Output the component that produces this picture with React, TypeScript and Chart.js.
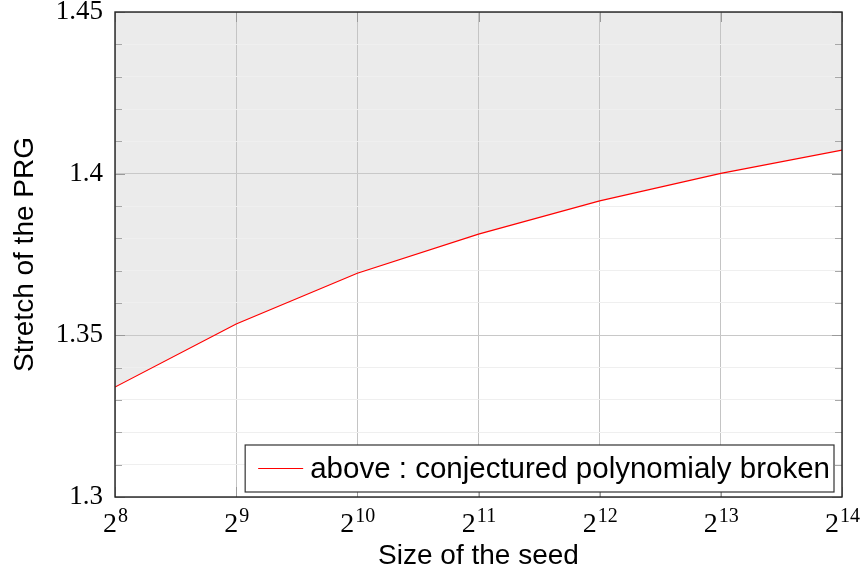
import React, { useEffect, useRef } from 'react';
import { Chart, registerables } from 'chart.js';

Chart.register(...registerables);

// ---- data ----
const exponents = [8, 9, 10, 11, 12, 13, 14];
const stretch = [1.334, 1.3535, 1.3692, 1.3813, 1.3916, 1.4001, 1.4073];
const yMin = 1.3;
const yMax = 1.45;
const yMinorStep = 0.01;
const yMajorStep = 0.05;
const seriesLabel = 'above : conjectured polynomialy broken';
const xTitle = 'Size of the seed';
const yTitle = 'Stretch of the PRG';

const SERIF = '"Liberation Serif", "DejaVu Serif", serif';
const SANS = '"Liberation Sans", Arial, sans-serif';

const isMajor = (v: number) => {
  const r = v / yMajorStep;
  return Math.abs(r - Math.round(r)) < 1e-6;
};

const frameAndTicks = {
  id: 'frameAndTicks',
  afterDatasetsDraw(chart: any) {
    const { ctx, chartArea } = chart;
    const { left, right, top, bottom } = chartArea;
    const xs = chart.scales.x;
    const ys = chart.scales.y;
    ctx.save();
    ctx.lineWidth = 1;
    ys.ticks.forEach((t: any) => {
      const y = Math.round(ys.getPixelForValue(t.value)) + 0.5;
      const major = isMajor(t.value);
      const len = major ? 10 : 7;
      ctx.strokeStyle = major ? '#9a9a9a' : '#a8a8a8';
      ctx.beginPath();
      ctx.moveTo(left, y);
      ctx.lineTo(left + len, y);
      ctx.moveTo(right, y);
      ctx.lineTo(right - len, y);
      ctx.stroke();
    });
    xs.ticks.forEach((t: any) => {
      const x = Math.round(xs.getPixelForValue(t.value)) + 0.5;
      ctx.strokeStyle = '#9a9a9a';
      ctx.beginPath();
      ctx.moveTo(x, bottom);
      ctx.lineTo(x, bottom - 10);
      ctx.moveTo(x, top);
      ctx.lineTo(x, top + 10);
      ctx.stroke();
    });
    ctx.strokeStyle = '#222';
    ctx.lineWidth = 1.4;
    ctx.strokeRect(left, top, right - left, bottom - top);
    ctx.restore();
  },
};

const xTickLabels = {
  id: 'xTickLabels',
  afterDraw(chart: any) {
    const { ctx } = chart;
    const xs = chart.scales.x;
    const baseY = chart.chartArea.bottom + 35;
    ctx.save();
    ctx.fillStyle = '#000';
    ctx.textBaseline = 'alphabetic';
    ctx.textAlign = 'left';
    xs.ticks.forEach((t: any) => {
      const x = xs.getPixelForValue(t.value);
      const base = '2';
      const sup = String(t.value);
      ctx.font = `28px ${SERIF}`;
      const wb = ctx.measureText(base).width;
      ctx.font = `20px ${SERIF}`;
      const ws = ctx.measureText(sup).width;
      const start = x - (wb + ws) / 2;
      ctx.font = `28px ${SERIF}`;
      ctx.fillText(base, start, baseY);
      ctx.font = `20px ${SERIF}`;
      ctx.fillText(sup, start + wb + 1, baseY - 10);
    });
    ctx.restore();
  },
};

const boxLegend = {
  id: 'boxLegend',
  afterDraw(chart: any) {
    const { ctx, chartArea } = chart;
    const ds = chart.data.datasets[0];
    ctx.save();
    ctx.font = `29.5px ${SANS}`;
    const tw = ctx.measureText(ds.label).width;
    const gap1 = 13, lineLen = 45, gap2 = 7, padR = 4, boxH = 47;
    const boxW = gap1 + lineLen + gap2 + tw + padR;
    const right = chartArea.right - 8;
    const bottom = chartArea.bottom - 5;
    const left = right - boxW;
    const top = bottom - boxH;
    ctx.fillStyle = '#fff';
    ctx.fillRect(left, top, boxW, boxH);
    ctx.strokeStyle = '#333';
    ctx.lineWidth = 1.2;
    ctx.strokeRect(left, top, boxW, boxH);
    const midY = top + boxH / 2;
    ctx.strokeStyle = ds.borderColor;
    ctx.lineWidth = 1.2;
    ctx.beginPath();
    ctx.moveTo(left + gap1, midY);
    ctx.lineTo(left + gap1 + lineLen, midY);
    ctx.stroke();
    ctx.fillStyle = '#000';
    ctx.textBaseline = 'alphabetic';
    ctx.textAlign = 'left';
    ctx.fillText(ds.label, left + gap1 + lineLen + gap2, midY + 9);
    ctx.restore();
  },
};

export default function App() {
  const ref = useRef<HTMLCanvasElement | null>(null);

  useEffect(() => {
    document.body.style.margin = '0';
    if (!ref.current) return;
    const chart = new Chart(ref.current, {
      type: 'line',
      data: {
        datasets: [
          {
            label: seriesLabel,
            data: exponents.map((e, i) => ({ x: e, y: stretch[i] })),
            borderColor: '#ff0000',
            borderWidth: 1.2,
            backgroundColor: '#ebebeb',
            pointRadius: 0,
            tension: 0,
            fill: 'end',
          },
        ],
      },
      options: {
        animation: false,
        responsive: false,
        layout: { padding: { top: 12, right: 21, left: 0, bottom: 0 } },
        plugins: {
          legend: { display: false },
          tooltip: { enabled: false },
          filler: { drawTime: 'beforeDraw' },
        } as any,
        scales: {
          x: {
            type: 'linear',
            min: exponents[0],
            max: exponents[exponents.length - 1],
            ticks: { display: false, stepSize: 1 },
            grid: { color: '#c4c4c4', lineWidth: 1, drawTicks: false },
            border: { display: false },
            title: {
              display: true,
              text: xTitle,
              color: '#000',
              font: { family: SANS, size: 28 },
              padding: { top: 0, bottom: 5 },
            },
            afterFit: (s: any) => {
              s.height = 81;
              s.paddingLeft = 0;
              s.paddingRight = 0;
            },
          },
          y: {
            type: 'linear',
            min: yMin,
            max: yMax,
            ticks: {
              stepSize: yMinorStep,
              color: '#000',
              font: { family: SERIF, size: 27 },
              padding: 12,
              autoSkip: false,
              callback: (v: any) => (isMajor(Number(v)) ? String(Number(Number(v).toFixed(2))) : ''),
            },
            grid: {
              drawTicks: false,
              lineWidth: 1,
              color: (c: any) => (c.tick && isMajor(c.tick.value) ? '#c8c8c8' : '#efefef'),
            },
            border: { display: false },
            title: {
              display: true,
              text: yTitle,
              color: '#000',
              font: { family: SANS, size: 28 },
              padding: { top: 8, bottom: 0 },
            },
            afterFit: (s: any) => {
              s.width = 115;
              s.paddingTop = 0;
              s.paddingBottom = 0;
            },
          },
        },
      },
      plugins: [frameAndTicks, xTickLabels, boxLegend],
    });
    return () => chart.destroy();
  }, []);

  return (
    <div style={{ width: 863, height: 578 }}>
      <canvas ref={ref} width={863} height={578} style={{ display: 'block' }} />
    </div>
  );
}
